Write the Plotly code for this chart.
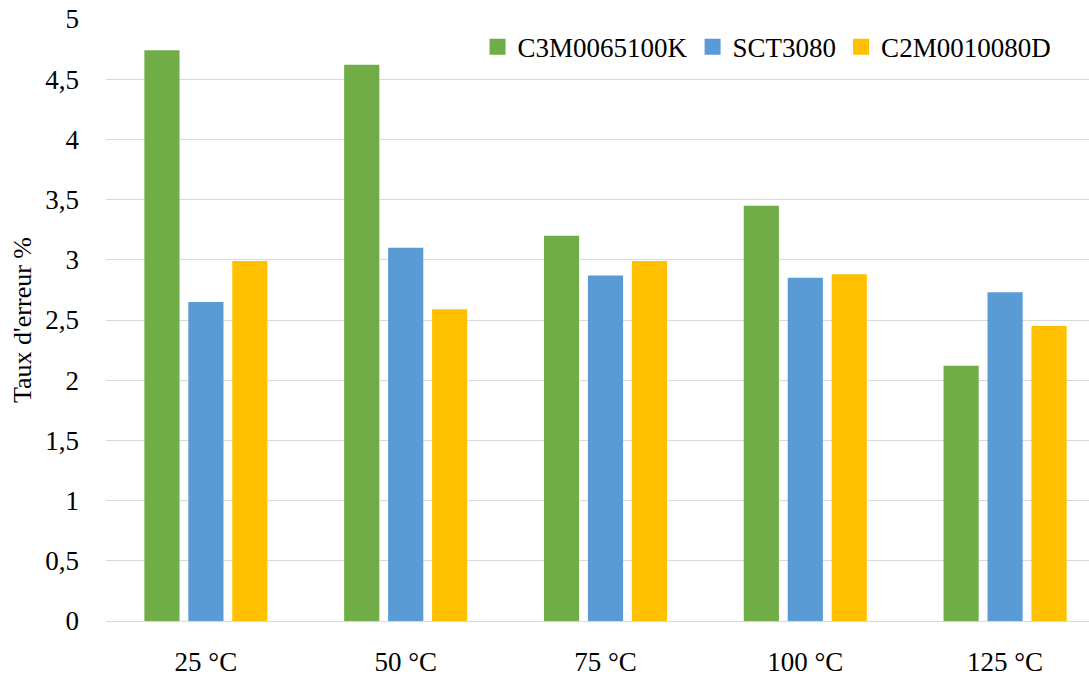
import plotly.graph_objects as go

categories = ["25 °C", "50 °C", "75 °C", "100 °C", "125 °C"]
series_names = ["C3M0065100K", "SCT3080", "C2M0010080D"]
c3m_values = [4.74, 4.62, 3.20, 3.45, 2.12]
sct_values = [2.65, 3.10, 2.87, 2.85, 2.73]
c2m_values = [2.99, 2.59, 2.99, 2.88, 2.45]
colors = ["#70AD47", "#5B9BD5", "#FFC000"]
y_ticks = [0, 0.5, 1, 1.5, 2, 2.5, 3, 3.5, 4, 4.5, 5]
y_tick_labels = ["0", "0,5", "1", "1,5", "2", "2,5", "3", "3,5", "4", "4,5", "5"]

FONT = "Liberation Serif"
FS = 27

fig = go.Figure()
for name, vals, col in zip(series_names, [c3m_values, sct_values, c2m_values], colors):
    fig.add_trace(go.Bar(x=categories, y=vals, name=name, marker_color=col,
                         marker_line_width=0, showlegend=False))
# legend proxies (larger square symbols)
for name, col in zip(series_names, colors):
    fig.add_trace(go.Scatter(x=[None], y=[None], mode="markers", name=name,
                             marker=dict(symbol="square", size=16, color=col),
                             showlegend=True))

fig.update_layout(
    width=1089, height=678,
    margin=dict(l=106, r=0, t=19, b=57, autoexpand=False),
    paper_bgcolor="white", plot_bgcolor="white",
    font=dict(family=FONT, size=FS, color="#000000"),
    barmode="group", bargap=0.34, bargroupgap=0.2,
    legend=dict(orientation="h", x=0.378, y=0.953, xanchor="left", yanchor="middle",
                font=dict(family=FONT, size=FS), bgcolor="rgba(0,0,0,0)",
                itemclick=False),
    showlegend=True,
)
fig.update_xaxes(type="category", range=[-0.5, 4.42], showgrid=False,
                 showline=False, ticks="", ticklabelstandoff=22, automargin=False,
                 ticklabeloverflow="allow",
                 tickfont=dict(family=FONT, size=FS))
fig.update_yaxes(range=[0, 5.0001], tickvals=y_ticks, ticktext=y_tick_labels,
                 showgrid=True, gridcolor="#D9D9D9", gridwidth=1,
                 zeroline=True, zerolinecolor="#D9D9D9", zerolinewidth=1,
                 showline=False, ticks="", ticklabelstandoff=26, automargin=False,
                 ticklabeloverflow="allow",
                 tickfont=dict(family=FONT, size=FS),
                 title=dict(text="Taux d'erreur %", standoff=6,
                            font=dict(family=FONT, size=26)))

fig.write_html("out.html", config={"displayModeBar": False},
               post_script="document.body.style.margin='0';")
